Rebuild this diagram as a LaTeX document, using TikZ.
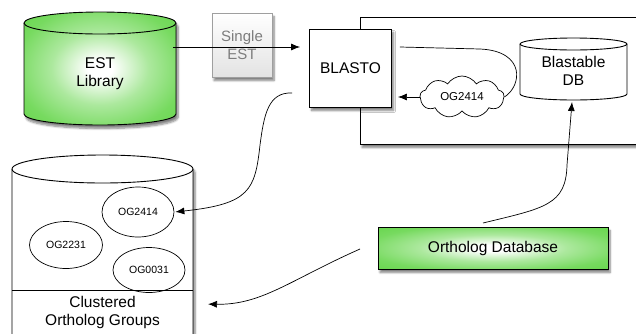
\documentclass[tikz,border=0pt]{standalone}
\usepackage{fontspec}
\setmainfont{Liberation Sans}
\usetikzlibrary{shapes.symbols,shapes.geometric,shadows.blur,arrows.meta}
\definecolor{lgreen}{RGB}{104,214,78}
\definecolor{txtgray}{RGB}{125,125,125}
\pgfdeclareradialshading{greenrad}{\pgfpoint{0bp}{0bp}}{%
  color(0bp)=(white); color(4bp)=(white); color(16bp)=(lgreen!55!white);
  color(28bp)=(lgreen!90!white); color(36bp)=(lgreen); color(50bp)=(lgreen)}
\tikzset{
  conn/.style={draw=black, line width=0.7pt},
  arr/.style={conn, -{Latex[length=9pt,width=7pt]}},
  shad/.style={blur shadow={shadow xshift=2pt, shadow yshift=-3.5pt, shadow opacity=50, shadow blur steps=6}},
  lbl/.style={font=\fontsize{15.5}{18}\selectfont, align=center, inner sep=0pt},
  small/.style={font=\fontsize{10.5}{12}\selectfont, inner sep=0pt},
  boxline/.style={draw=black, line width=0.9pt},
  greenfill/.style={shading=greenrad},
}
\begin{document}
\begin{tikzpicture}[x=1pt,y=-1pt]
\useasboundingbox (0,0) rectangle (636,333);
\clip (0,0) rectangle (636,333);
% ---- EST Library cylinder
\path[shad] (24,23) -- (24,114) arc(180:0:76 and 11) -- (176,23) arc(0:-180:76 and 11) -- cycle;
\path[greenfill] (24,23) -- (24,114) arc(180:0:76 and 11) -- (176,23) arc(0:-180:76 and 11) -- cycle;
\draw[boxline] (24,23) -- (24,114) arc(180:0:76 and 11) -- (176,23) arc(0:-180:76 and 11) -- cycle;
\draw[boxline] (24,23) arc(180:0:76 and 11);
\node[lbl] (est) at (100,74) {EST\\Library};
\coordinate (estR) at (173,47);
% ---- big box
\path[shad, fill=white] (360,17) rectangle (660,144);
\draw[boxline] (360,17) rectangle (660,144);
% ---- Single EST
\node[shad, draw=gray!75, line width=0.6pt, top color=white, bottom color=gray!22, minimum width=60pt, minimum height=64pt, inner sep=0pt] (single) at (242,45) {};
% ---- BLASTO
\node[shad, boxline, fill=white, minimum width=82pt, minimum height=78pt, lbl] (blasto) at (350.5,68) {BLASTO};
% ---- connector EST -> BLASTO
\draw[arr, shorten >=9pt] (estR) -- (blasto.west |- estR);
\node[lbl, text=txtgray, font=\fontsize{15}{17.5}\selectfont] (singletxt) at (242,45) {Single\\EST};
% ---- Blastable DB cylinder
\draw[boxline, fill=white] (520,44) -- (520,94) arc(180:0:53.5 and 6) -- (627,44) arc(0:-180:53.5 and 6) -- cycle;
\draw[boxline] (520,44) arc(180:0:53.5 and 6);
\node[lbl] (bdb) at (573.5,71) {Blastable\\DB};
\coordinate (bdbB) at (572,102);
% ---- cloud
\node[cloud, cloud puffs=9, cloud puff arc=115, aspect=2.2, draw=black, line width=0.7pt, fill=white, minimum width=84pt, minimum height=42pt, inner sep=0pt, font=\fontsize{11.5}{13}\selectfont] (og) at (462,97) {OG2414};
% loop from BLASTO to cloud
\draw[conn] ([xshift=8pt]blasto.east |- estR) -- (480,49) .. controls (526,51) and (522,86) .. (og.east);
\draw[arr, shorten >=6pt] (og.west) -- (blasto.east |- og.west);
% ---- Clustered cylinder
\path[shad] (12,169) -- (12,360) -- (193,360) -- (193,169) arc(0:-180:90.5 and 14) -- cycle;
\draw[boxline, fill=white] (12,169) -- (12,360) -- (193,360) -- (193,169) arc(0:-180:90.5 and 14) -- cycle;
\draw[boxline] (12,169) arc(180:0:90.5 and 14);
\draw[boxline] (12,290) -- (193,290);
\node[lbl] (clus) at (102.5,312) {Clustered\\Ortholog Groups};
\coordinate (clusR) at (200,304);
% ellipses
\node[ellipse, draw=black, line width=0.7pt, minimum width=72pt, minimum height=50pt, inner sep=0pt, small] (og1) at (138,212) {OG2414};
\node[ellipse, draw=black, line width=0.7pt, minimum width=73pt, minimum height=47pt, inner sep=0pt, small] (og2) at (66,245) {OG2231};
\node[ellipse, draw=black, line width=0.7pt, minimum width=72pt, minimum height=45pt, inner sep=0pt, small] (og3) at (149,270) {OG0031};
% ---- Ortholog Database
\node[shad, draw=black, line width=0.9pt, greenfill, minimum width=230pt, minimum height=42pt, lbl] (odb) at (493,248) {Ortholog Database};
% ---- connectors
\coordinate (bl1) at (292,93);
\draw[arr, shorten >=1pt] (bl1) .. controls (268,92) and (264,115) .. (260,145) .. controls (255,190) and (250,204) .. (og1.east);
\coordinate (odbT) at (483,223);
\draw[arr] (odbT) .. controls (545,208) and (566,205) .. (567,165) -- (bdbB);
\coordinate (odbL) at (360,249);
\draw[arr, shorten >=8pt] (odbL) .. controls (290,280) and (262,305) .. (clusR);
\end{tikzpicture}
\end{document}
